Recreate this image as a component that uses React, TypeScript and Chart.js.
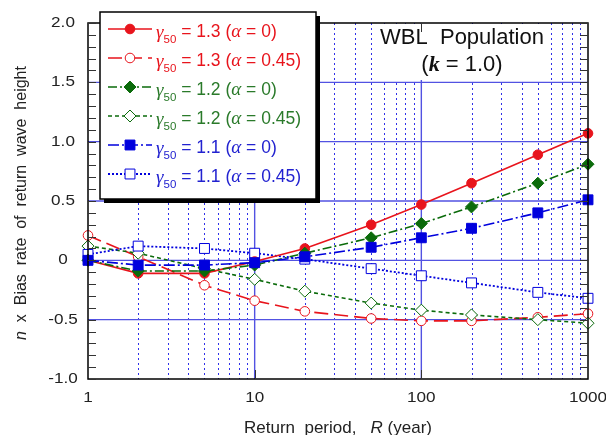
import React, { useEffect, useRef } from "react";
import { Chart, registerables } from "chart.js";

Chart.register(...registerables);

const FONT = '"Liberation Sans", Arial, Helvetica, sans-serif';
const SERIF = '"Liberation Serif", "Times New Roman", serif';

// Return periods (years) shared by every series
const returnPeriods = [1, 2, 5, 10, 20, 50, 100, 200, 500, 1000];

// n x bias rate of the return wave height
const gamma13Alpha0 = [0, -0.11, -0.11, -0.01, 0.1, 0.3, 0.47, 0.65, 0.89, 1.07];
const gamma13Alpha045 = [0.21, 0.03, -0.21, -0.34, -0.43, -0.49, -0.51, -0.51, -0.48, -0.45];
const gamma12Alpha0 = [0, -0.09, -0.09, -0.04, 0.06, 0.19, 0.31, 0.45, 0.65, 0.81];
const gamma12Alpha045 = [0.12, 0.06, -0.07, -0.16, -0.26, -0.36, -0.42, -0.46, -0.5, -0.53];
const gamma11Alpha0 = [0, -0.04, -0.04, -0.02, 0.03, 0.11, 0.19, 0.27, 0.4, 0.51];
const gamma11Alpha045 = [0.05, 0.12, 0.1, 0.06, 0.01, -0.07, -0.13, -0.19, -0.27, -0.32];

// Legend texts
const gammaLabels = ["1.3", "1.3", "1.2", "1.2", "1.1", "1.1"];
const alphaLabels = ["0", "0.45", "0", "0.45", "0", "0.45"];

// Axis ticks
const xTickValues = [1, 10, 100, 1000];
const xTickLabels = ["1", "10", "100", "1000"];
const yTickValues = [2, 1.5, 1, 0.5, 0, -0.5, -1];
const yTickLabels = ["2.0", "1.5", "1.0", "0.5", "0", "-0.5", "-1.0"];
const yGridValues = [1.5, 1, 0.5, 0, -0.5];

const RED = "#e8141c";
const GREEN = "#0b6b0b";
const BLUE = "#0000dd";
const RED_TEXT = "#e8141c";
const GREEN_TEXT = "#2a7a2a";
const BLUE_TEXT = "#2222d0";

type Series = {
  data: number[];
  color: string;
  text: string;
  style: "circle" | "rectRot" | "rect";
  filled: boolean;
  dash: number[];
  width: number;
  radius: number;
  order: number;
};

const series: Series[] = [
  { data: gamma13Alpha0, color: RED, text: RED_TEXT, style: "circle", filled: true, dash: [], width: 1.6, radius: 4.8, order: 2 },
  { data: gamma13Alpha045, color: RED, text: RED_TEXT, style: "circle", filled: false, dash: [14, 6], width: 1.6, radius: 4.8, order: 5 },
  { data: gamma12Alpha0, color: GREEN, text: GREEN_TEXT, style: "rectRot", filled: true, dash: [9, 3, 2, 3], width: 1.6, radius: 6, order: 1 },
  { data: gamma12Alpha045, color: GREEN, text: GREEN_TEXT, style: "rectRot", filled: false, dash: [4, 3], width: 1.6, radius: 6, order: 4 },
  { data: gamma11Alpha0, color: BLUE, text: BLUE_TEXT, style: "rect", filled: true, dash: [11, 3, 2, 3], width: 1.6, radius: 7, order: 0 },
  { data: gamma11Alpha045, color: BLUE, text: BLUE_TEXT, style: "rect", filled: false, dash: [2, 2], width: 1.8, radius: 7, order: 3 },
];

function drawMarker(ctx: CanvasRenderingContext2D, s: Series, x: number, y: number) {
  ctx.save();
  ctx.setLineDash([]);
  ctx.beginPath();
  const r = s.radius;
  if (s.style === "circle") {
    ctx.arc(x, y, r, 0, Math.PI * 2);
  } else if (s.style === "rectRot") {
    ctx.moveTo(x, y - r);
    ctx.lineTo(x + r, y);
    ctx.lineTo(x, y + r);
    ctx.lineTo(x - r, y);
    ctx.closePath();
  } else {
    const h = r * Math.SQRT1_2;
    ctx.rect(x - h, y - h, 2 * h, 2 * h);
  }
  ctx.fillStyle = s.filled ? s.color : "#ffffff";
  ctx.fill();
  ctx.strokeStyle = s.color;
  ctx.lineWidth = 1;
  ctx.stroke();
  ctx.restore();
}

type Part = { t: string; font: string; dy?: number };

function drawParts(ctx: CanvasRenderingContext2D, parts: Part[], x: number, y: number, color: string) {
  let cx = x;
  ctx.fillStyle = color;
  ctx.textBaseline = "middle";
  ctx.textAlign = "left";
  for (const p of parts) {
    ctx.font = p.font;
    ctx.fillText(p.t, cx, y + (p.dy || 0));
    cx += ctx.measureText(p.t).width;
  }
  return cx;
}

function partsWidth(ctx: CanvasRenderingContext2D, parts: Part[]) {
  let w = 0;
  for (const p of parts) {
    ctx.font = p.font;
    w += ctx.measureText(p.t).width;
  }
  return w;
}

// Tick labels use a slightly widened face
function wideText(ctx: CanvasRenderingContext2D, text: string, x: number, y: number) {
  ctx.save();
  ctx.translate(x, y);
  ctx.scale(1.18, 1);
  ctx.fillText(text, 0, 0);
  ctx.restore();
}

const decorPlugin = {
  id: "decor",
  beforeDatasetsDraw(chart: any) {
    const { ctx, chartArea: a, scales } = chart;
    const xs = scales.x;
    const ys = scales.y;
    ctx.save();
    // minor vertical grid (dotted)
    ctx.strokeStyle = "#3030e8";
    ctx.lineWidth = 1;
    ctx.setLineDash([2, 3]);
    for (let dec = 1; dec <= 100; dec *= 10) {
      for (let m = 2; m <= 9; m++) {
        const px = Math.round(xs.getPixelForValue(m * dec)) + 0.5;
        ctx.beginPath();
        ctx.moveTo(px, a.top);
        ctx.lineTo(px, a.bottom);
        ctx.stroke();
      }
    }
    // major grid
    ctx.setLineDash([]);
    ctx.strokeStyle = "#5252e2";
    ctx.lineWidth = 1.4;
    for (const v of [10, 100]) {
      const px = xs.getPixelForValue(v);
      ctx.beginPath();
      ctx.moveTo(px, a.top);
      ctx.lineTo(px, a.bottom);
      ctx.stroke();
    }
    for (const v of yGridValues) {
      const py = ys.getPixelForValue(v);
      ctx.beginPath();
      ctx.moveTo(a.left, py);
      ctx.lineTo(a.right, py);
      ctx.stroke();
    }
    // title panel
    ctx.fillStyle = "#ffffff";
    ctx.fillRect(374, a.top + 1, 176, 56);
    ctx.fillStyle = "#111111";
    ctx.textAlign = "center";
    ctx.textBaseline = "middle";
    ctx.font = `22px ${FONT}`;
    ctx.fillText("WBL  Population", 462, 38);
    const tParts: Part[] = [
      { t: "(", font: `22px ${FONT}` },
      { t: "k", font: `italic bold 22px ${SERIF}` },
      { t: " = 1.0)", font: `22px ${FONT}` },
    ];
    const tw = partsWidth(ctx, tParts);
    drawParts(ctx, tParts, 462 - tw / 2, 65, "#111111");
    ctx.restore();
  },
  afterDatasetsDraw(chart: any) {
    const { ctx, chartArea: a, scales } = chart;
    const xs = scales.x;
    const ys = scales.y;
    ctx.save();
    ctx.setLineDash([]);
    // frame
    ctx.strokeStyle = "#000000";
    ctx.lineWidth = 1.5;
    ctx.strokeRect(a.left, a.top, a.right - a.left, a.bottom - a.top);
    // minor y ticks on both sides
    ctx.strokeStyle = "#333333";
    ctx.lineWidth = 1;
    for (let i = -10; i <= 20; i++) {
      const py = Math.round(ys.getPixelForValue(i / 10)) + 0.5;
      ctx.beginPath();
      ctx.moveTo(a.left, py);
      ctx.lineTo(a.left + 8, py);
      ctx.moveTo(a.right, py);
      ctx.lineTo(a.right - 8, py);
      ctx.stroke();
    }
    // x major ticks
    for (const v of [10, 100]) {
      const px = Math.round(xs.getPixelForValue(v)) + 0.5;
      ctx.beginPath();
      ctx.moveTo(px, a.bottom);
      ctx.lineTo(px, a.bottom - 9);
      ctx.moveTo(px, a.top);
      ctx.lineTo(px, a.top + 9);
      ctx.stroke();
    }
    // tick labels
    ctx.fillStyle = "#222222";
    ctx.font = `14.5px ${FONT}`;
    ctx.textAlign = "center";
    ctx.textBaseline = "middle";
    xTickValues.forEach((v, i) => {
      wideText(ctx, xTickLabels[i], xs.getPixelForValue(v), a.bottom + 19);
    });
    yTickValues.forEach((v, i) => {
      wideText(ctx, yTickLabels[i], 63, ys.getPixelForValue(v));
    });
    // x axis title
    const xParts: Part[] = [
      { t: "Return  period,   ", font: `17px ${FONT}` },
      { t: "R", font: `italic 17px ${FONT}` },
      { t: " (year)", font: `17px ${FONT}` },
    ];
    const xw = partsWidth(ctx, xParts);
    drawParts(ctx, xParts, (a.left + a.right) / 2 - xw / 2, 428, "#222222");
    // y axis title
    ctx.save();
    ctx.translate(22, 203);
    ctx.rotate(-Math.PI / 2);
    const yParts: Part[] = [
      { t: "n", font: `italic 16px ${FONT}` },
      { t: "  x  Bias  rate  of  return  wave  height", font: `16px ${FONT}` },
    ];
    const yw = partsWidth(ctx, yParts);
    drawParts(ctx, yParts, -yw / 2, 0, "#222222");
    ctx.restore();

    // legend
    const lx = 100, ly = 12, lw = 216, lh = 187;
    ctx.fillStyle = "#000000";
    ctx.fillRect(lx + 4, ly + 4, lw, lh);
    ctx.fillStyle = "#ffffff";
    ctx.fillRect(lx, ly, lw, lh);
    ctx.strokeStyle = "#000000";
    ctx.lineWidth = 1.5;
    ctx.strokeRect(lx, ly, lw, lh);
    series.forEach((s, i) => {
      const ry = 29 + i * 29;
      ctx.save();
      ctx.strokeStyle = s.color;
      ctx.lineWidth = s.width;
      ctx.setLineDash(s.dash);
      ctx.beginPath();
      ctx.moveTo(108, ry);
      ctx.lineTo(152, ry);
      ctx.stroke();
      ctx.restore();
      drawMarker(ctx, s, 130, ry);
      const parts: Part[] = [
        { t: "γ", font: `italic 19px ${SERIF}`, dy: 1 },
        { t: "50", font: `11.5px ${FONT}`, dy: 8 },
        { t: ` = ${gammaLabels[i]} (`, font: `17.5px ${FONT}` },
        { t: "α", font: `italic 19px ${SERIF}` },
        { t: ` = ${alphaLabels[i]})`, font: `17.5px ${FONT}` },
      ];
      drawParts(ctx, parts, 156, ry + 3, s.text);
    });
    ctx.restore();
  },
};

export default function App() {
  const canvasRef = useRef<HTMLCanvasElement | null>(null);

  useEffect(() => {
    const canvas = canvasRef.current;
    if (!canvas) return;
    const chart = new Chart(canvas, {
      type: "line",
      data: {
        labels: returnPeriods,
        datasets: series.map((s, i) => ({
          label: `g${gammaLabels[i]} a${alphaLabels[i]}`,
          data: s.data.map((v, j) => ({ x: returnPeriods[j], y: v })),
          borderColor: s.color,
          backgroundColor: s.filled ? s.color : "#ffffff",
          borderWidth: s.width,
          borderDash: s.dash,
          pointStyle: s.style,
          pointRadius: s.radius,
          pointBorderWidth: 1,
          pointBackgroundColor: s.filled ? s.color : "#ffffff",
          pointBorderColor: s.color,
          tension: 0,
          fill: false,
          clip: false,
          order: s.order,
        })),
      },
      options: {
        responsive: false,
        animation: false,
        events: [],
        layout: { padding: { left: 0, right: 18, top: 23, bottom: 0 } },
        plugins: {
          legend: { display: false },
          tooltip: { enabled: false },
          title: { display: false },
        },
        scales: {
          x: {
            type: "logarithmic",
            min: 1,
            max: 1000,
            grid: { display: false },
            border: { display: false },
            ticks: { display: false },
            afterFit: (s: any) => {
              s.height = 56;
            },
          },
          y: {
            type: "linear",
            min: -1,
            max: 2,
            grid: { display: false },
            border: { display: false },
            ticks: { display: false },
            afterFit: (s: any) => {
              s.width = 88;
            },
          },
        },
      },
      plugins: [decorPlugin],
    } as any);
    return () => chart.destroy();
  }, []);

  return (
    <div style={{ position: "fixed", left: 0, top: 0, width: 606, height: 435, background: "#ffffff" }}>
      <canvas ref={canvasRef} width={606} height={435} style={{ display: "block" }} />
    </div>
  );
}
